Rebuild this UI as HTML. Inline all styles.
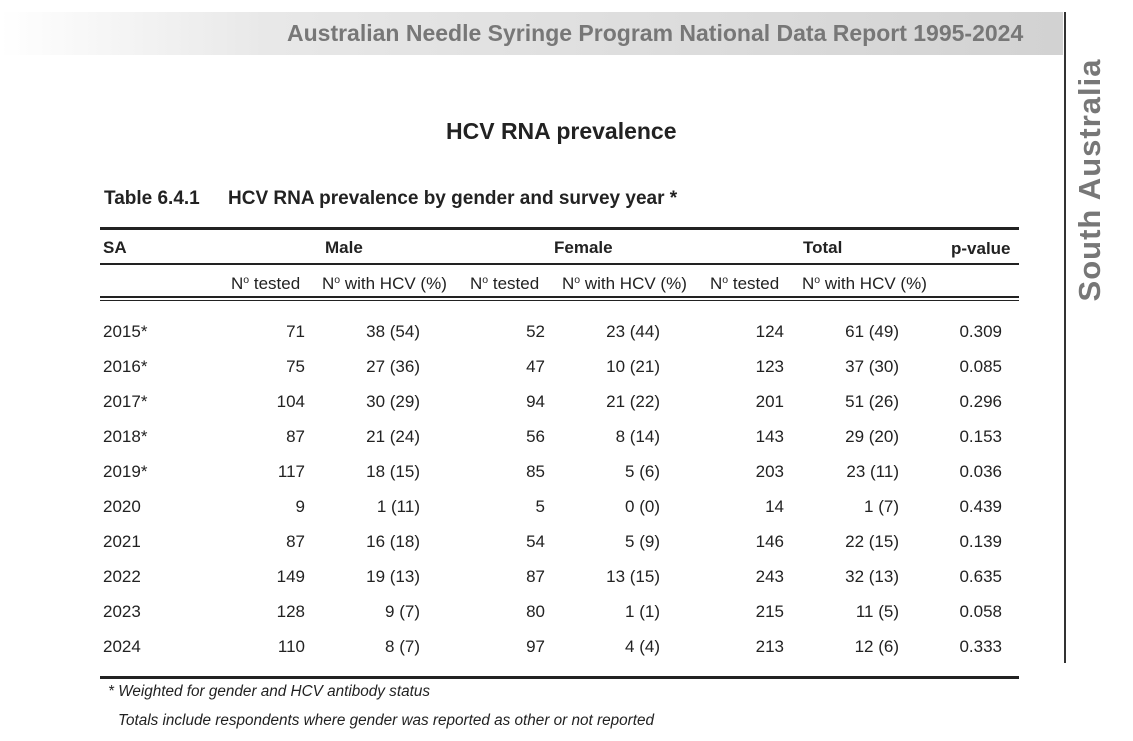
<!DOCTYPE html>
<html><head><meta charset="utf-8"><style>
body{margin:0;width:1133px;height:741px;background:#fff;position:relative;font-family:"Liberation Sans",Arial,sans-serif;color:#222;overflow:hidden}
.a{position:absolute;white-space:nowrap}
.r{position:absolute;white-space:nowrap;text-align:right;width:120px}
.t{font-size:17px}
.b{font-weight:bold}
.line{position:absolute;left:100px;width:919px;background:#222}
sup{font-size:10.5px;vertical-align:6px}
</style></head><body>
<div class="a" style="left:0;top:12px;width:1063px;height:43px;background:linear-gradient(to right,#fff 0%,#e8e8e8 25%,#d2d2d2 100%)"></div>
<div class="a b" style="left:287px;top:20px;font-size:23px;color:#777">Australian Needle Syringe Program National Data Report 1995-2024</div>
<div class="a" style="left:1064px;top:12px;width:2px;height:651px;background:#333"></div>
<div class="a b" style="left:1090px;top:180px;font-size:31px;color:#777;transform:translate(-50%,-50%) rotate(-90deg);letter-spacing:1px">South Australia</div>
<div class="a b" style="left:446px;top:118px;font-size:23px">HCV RNA prevalence</div>
<div class="a b" style="left:104px;top:188px;font-size:19px">Table 6.4.1</div>
<div class="a b" style="left:228px;top:188px;font-size:19px">HCV RNA prevalence by gender and survey year *</div>
<div class="line" style="top:227px;height:3px"></div>
<div class="line" style="top:263px;height:2px"></div>
<div class="line" style="top:296px;height:2px"></div>
<div class="line" style="top:300px;height:1px"></div>
<div class="line" style="top:676px;height:3px"></div>
<div class="a b t" style="left:103px;top:238px">SA</div>
<div class="a b t" style="left:325px;top:238px">Male</div>
<div class="a b t" style="left:554px;top:238px">Female</div>
<div class="a b t" style="left:803px;top:238px">Total</div>
<div class="a b t" style="left:951px;top:239px">p-value</div>
<div class="a t" style="left:231px;top:274px">N<sup>o</sup> tested</div>
<div class="a t" style="left:322px;top:274px">N<sup>o</sup> with HCV (%)</div>
<div class="a t" style="left:470px;top:274px">N<sup>o</sup> tested</div>
<div class="a t" style="left:562px;top:274px">N<sup>o</sup> with HCV (%)</div>
<div class="a t" style="left:710px;top:274px">N<sup>o</sup> tested</div>
<div class="a t" style="left:802px;top:274px">N<sup>o</sup> with HCV (%)</div>
<div id="rows"></div>
<div class="a" style="left:108px;top:683px;font-size:15.3px;font-style:italic">* Weighted for gender and HCV antibody status</div>
<div class="a" style="left:118px;top:712px;font-size:15.3px;font-style:italic">Totals include respondents where gender was reported as other or not reported</div>
<script>
var d=[["2015*",71,"38 (54)",52,"23 (44)",124,"61 (49)","0.309"],["2016*",75,"27 (36)",47,"10 (21)",123,"37 (30)","0.085"],["2017*",104,"30 (29)",94,"21 (22)",201,"51 (26)","0.296"],["2018*",87,"21 (24)",56,"8 (14)",143,"29 (20)","0.153"],["2019*",117,"18 (15)",85,"5 (6)",203,"23 (11)","0.036"],["2020",9,"1 (11)",5,"0 (0)",14,"1 (7)","0.439"],["2021",87,"16 (18)",54,"5 (9)",146,"22 (15)","0.139"],["2022",149,"19 (13)",87,"13 (15)",243,"32 (13)","0.635"],["2023",128,"9 (7)",80,"1 (1)",215,"11 (5)","0.058"],["2024",110,"8 (7)",97,"4 (4)",213,"12 (6)","0.333"]];
var rx=[305,420,545,660,784,899,1002],h="";
d.forEach(function(r,i){var y=322+i*35;h+='<div class="a t" style="left:103px;top:'+y+'px">'+r[0]+'</div>';
for(var j=1;j<8;j++)h+='<div class="r t" style="left:'+(rx[j-1]-120)+'px;top:'+y+'px">'+r[j]+'</div>';});
document.getElementById("rows").innerHTML=h;
</script>
</body></html>
